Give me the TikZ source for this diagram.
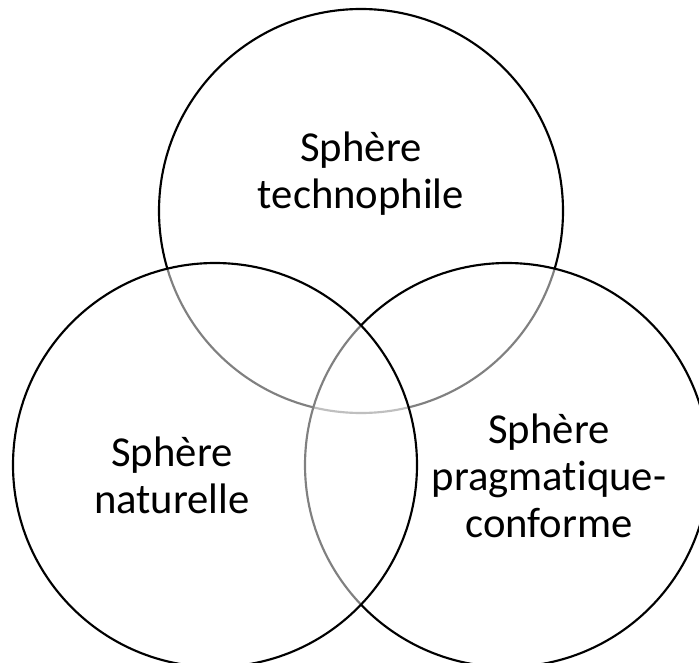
\documentclass[tikz,border=0pt]{standalone}
\usepackage{fontspec}
\setmainfont{Carlito}[Ligatures=NoCommon]
\usepackage{tikz}
\usetikzlibrary{positioning}

\begin{document}
\begin{tikzpicture}[x=0.75pt,y=-0.75pt,
sphere/.style={circle,draw,line width=1.6pt,fill=white,fill opacity=0.5,
minimum size=303pt,inner sep=0pt},
caption/.style={anchor=base,align=center,inner sep=0pt,
font=\fontsize{32}{34.9}\selectfont}]
\clip (0,0) rectangle (699,663);
\node[sphere] (tech) at (361,211) {};
\node[sphere] (prag) at (507,465) {};
\node[sphere] (nat) at (215,465) {};
\node[caption] (techtxt) at (361,208) {Sphère\\technophile};
\node[caption] (nattxt) at (172,513) {Sphère\\naturelle};
\node[caption] (pragtxt) at (549,537) {Sphère\\pragmatique-\\conforme};
\end{tikzpicture}
\end{document}
